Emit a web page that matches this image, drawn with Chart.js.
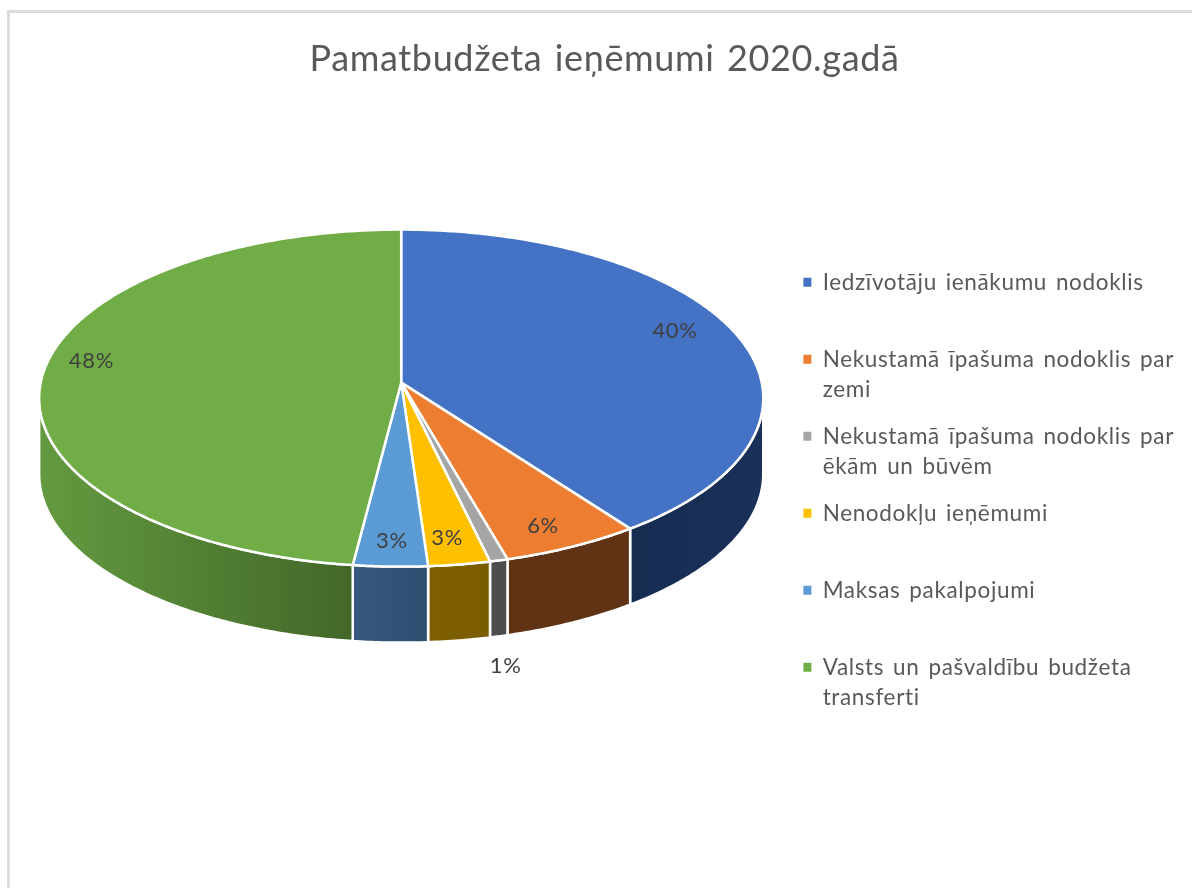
<!DOCTYPE html>
<html>
<head>
<meta charset="utf-8">
<title>Pamatbudžeta ieņēmumi 2020.gadā</title>
<script src="https://cdn.jsdelivr.net/npm/chart.js@4"></script>
<style>
    html, body { margin: 0; padding: 0; background: #fff; overflow: hidden; width: 1192px; height: 888px; }
    #frame { position: absolute; left: 7px; top: 10px; width: 1300px; height: 1000px; border-left: 3px solid #dcdcdc; border-top: 3px solid #dcdcdc; }
    #pieChart { position: absolute; left: 9px; top: 13px; }
</style>
</head>
<body>
<div id="frame"></div>
<canvas id="pieChart" width="1190" height="875"></canvas>
<script>
const chartTitle = 'Pamatbudžeta ieņēmumi 2020.gadā';
const categories = [
    'Iedzīvotāju ienākumu nodoklis',
    'Nekustamā īpašuma nodoklis par zemi',
    'Nekustamā īpašuma nodoklis par ēkām un būvēm',
    'Nenodokļu ieņēmumi',
    'Maksas pakalpojumi',
    'Valsts un pašvaldību budžeta transferti'
];
const legendLines = [
    ['Iedzīvotāju ienākumu nodoklis', ''],
    ['Nekustamā īpašuma nodoklis par', 'zemi'],
    ['Nekustamā īpašuma nodoklis par', 'ēkām un būvēm'],
    ['Nenodokļu ieņēmumi', ''],
    ['Maksas pakalpojumi', ''],
    ['Valsts un pašvaldību budžeta', 'transferti']
];
const shares = [40.0, 5.67, 0.73, 2.52, 3.03, 48.05];

const topColors = ['#4472c4', '#ed7d31', '#a5a5a5', '#ffc000', '#5b9bd5', '#70ad47'];
const sideLeftColors = ['#172c51', '#5f3314', '#4d4d4d', '#7f6000', '#36597d', '#639a3f'];
const sideRightColors = ['#1a3059', '#5f3314', '#4d4d4d', '#7a5c00', '#2d4f70', '#436729'];

// where each percent label sits: fraction of the radius, and turn from the slice middle in degrees
const labelRadius = [0.845, 0.873, 1.49, 0.862, 0.87, 0.88];
const labelTurn = [-4.3, 1.1, 4.6, 0.6, 0, 5.2];

const flatten = 0.4635;   // vertical squash of the disc
const tilt = -0.092;      // perspective, the near edge looks bigger
const depth = 76;         // height of the side wall

// the disc is projected, so the apex is not the middle of the ellipse
function project(arc, angle, r) {
    const u = Math.cos(angle) * r;
    const v = Math.sin(angle) * r;
    const w = 1 + tilt * v;
    return {
        x: arc.x + arc.outerRadius * u / w,
        y: arc.y + arc.outerRadius * flatten * v / w
    };
}

function traceRim(ctx, arc, from, to, dy, first) {
    const steps = Math.max(2, Math.ceil(Math.abs(to - from) / 0.01));
    for (let i = 0; i <= steps; i++) {
        const p = project(arc, from + (to - from) * i / steps, 1);
        if (i === 0 && first) ctx.moveTo(p.x, p.y + dy);
        else ctx.lineTo(p.x, p.y + dy);
    }
}

const pie3d = {
    id: 'pie3d',
    beforeLayout(chart) {
        // the original text is set a little wider than Lato.
        // has to be here, Chart.js resets the canvas when it starts
        chart.ctx.letterSpacing = '0.65px';
        chart.ctx.wordSpacing = '2.5px';
    },
    afterLayout(chart) {
        // legend block starts lower than the plot area
        const h = chart.legend.bottom - chart.legend.top;
        chart.legend.top = 241;
        chart.legend.bottom = 241 + h;
        // title is centred on the whole frame, not between the paddings
        chart.titleBlock.left += 4.5;
        chart.titleBlock.right += 4.5;
    },
    beforeDatasetsDraw(chart) {
        const ctx = chart.ctx;
        const arcs = chart.getDatasetMeta(0).data;
        const sideFrom = 5.1 * Math.PI / 180;
        const sideTo = 174.9 * Math.PI / 180;

        ctx.save();
        ctx.lineJoin = 'round';
        ctx.strokeStyle = '#ffffff';
        ctx.lineWidth = 2.5;

        // side wall first, only the part facing the viewer
        arcs.forEach((el, i) => {
            const arc = el.getProps(['x', 'y', 'startAngle', 'endAngle', 'outerRadius']);
            const a = Math.max(arc.startAngle, sideFrom);
            const b = Math.min(arc.endAngle, sideTo);
            if (b <= a) return;
            const pa = project(arc, a, 1);
            const pb = project(arc, b, 1);
            const grad = ctx.createLinearGradient(Math.min(pa.x, pb.x), 0, Math.max(pa.x, pb.x), 0);
            grad.addColorStop(0, sideLeftColors[i]);
            grad.addColorStop(1, sideRightColors[i]);
            ctx.beginPath();
            traceRim(ctx, arc, a, b, 0, true);
            traceRim(ctx, arc, b, a, depth, false);
            ctx.closePath();
            ctx.fillStyle = grad;
            ctx.fill();
            ctx.stroke();
        });

        arcs.forEach((el, i) => {
            const arc = el.getProps(['x', 'y', 'startAngle', 'endAngle', 'outerRadius']);
            ctx.beginPath();
            ctx.moveTo(arc.x, arc.y);
            traceRim(ctx, arc, arc.startAngle, arc.endAngle, 0, false);
            ctx.closePath();
            ctx.fillStyle = topColors[i];
            ctx.fill();
            ctx.stroke();
        });

        const total = shares.reduce((s, v) => s + v, 0);
        ctx.font = '22px Lato';
        ctx.fillStyle = '#404040';
        ctx.textAlign = 'center';
        ctx.textBaseline = 'middle';
        arcs.forEach((el, i) => {
            const arc = el.getProps(['x', 'y', 'startAngle', 'endAngle', 'outerRadius']);
            const mid = (arc.startAngle + arc.endAngle) / 2 + labelTurn[i] * Math.PI / 180;
            const p = project(arc, mid, labelRadius[i]);
            ctx.fillText(Math.round(shares[i] / total * 100) + '%', p.x, p.y);
        });
        ctx.restore();
        return false;
    }
};

document.addEventListener('DOMContentLoaded', function() {
    const ctx = document.getElementById('pieChart').getContext('2d');

    new Chart(ctx, {
        type: 'pie',
        data: {
            labels: categories,
            datasets: [{
                data: shares,
                backgroundColor: topColors,
                borderColor: '#ffffff',
                borderWidth: 2,
                radius: 360.5
            }]
        },
        options: {
            responsive: false,
            animation: false,
            layout: { padding: { left: 7, right: 15, top: 0, bottom: 204 } },
            plugins: {
                tooltip: { enabled: false },
                title: {
                    display: true,
                    text: chartTitle,
                    color: '#595959',
                    font: { family: 'Lato', size: 36, weight: 'normal' },
                    padding: { top: 25, bottom: 0 }
                },
                legend: {
                    position: 'right',
                    align: 'start',
                    onClick: null,
                    labels: {
                        boxWidth: 8,
                        boxHeight: 9,
                        padding: 17,
                        color: '#595959',
                        font: { family: 'Lato', size: 22.5, lineHeight: '30px' },
                        generateLabels: function(chart) {
                            return categories.map((name, i) => ({
                                text: legendLines[i],
                                fillStyle: topColors[i],
                                strokeStyle: topColors[i],
                                fontColor: '#595959',
                                lineWidth: 0,
                                index: i
                            }));
                        }
                    }
                }
            }
        },
        plugins: [pie3d]
    });
});
</script>
</body>
</html>
